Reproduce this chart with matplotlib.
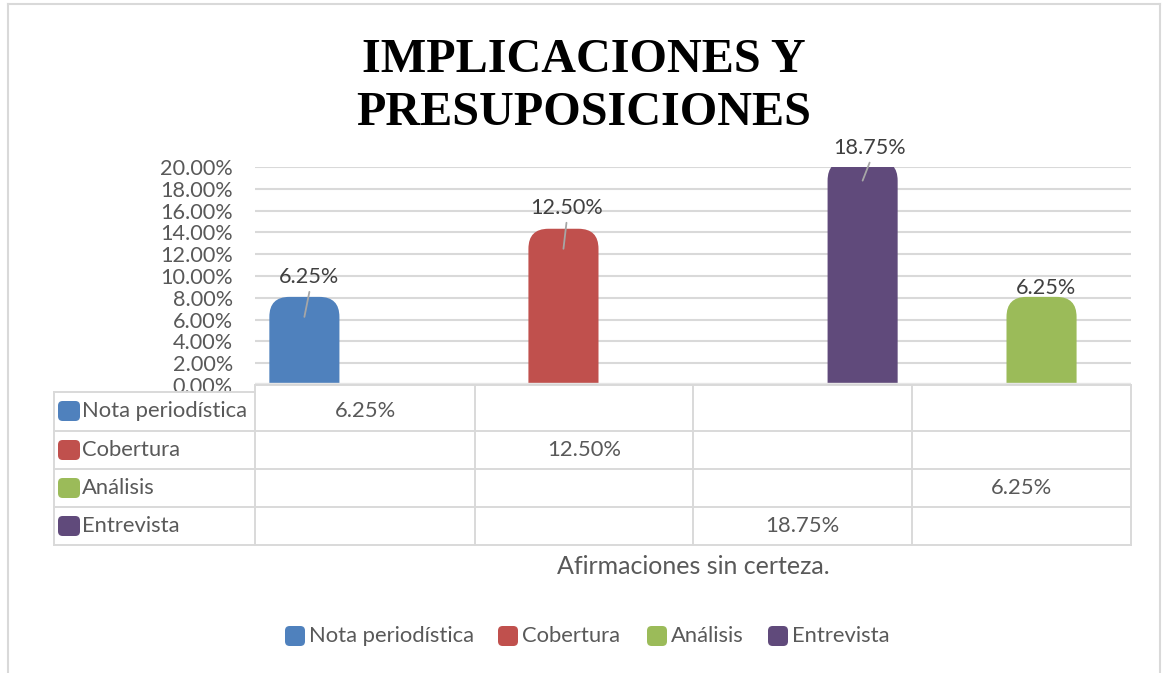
import matplotlib
matplotlib.use("Agg")
import matplotlib.pyplot as plt
from matplotlib.patches import FancyBboxPatch
from matplotlib.lines import Line2D
import numpy as np

# ---------------- data ----------------
title_lines = ["IMPLICACIONES Y", "PRESUPOSICIONES"]
axis_title = "Afirmaciones sin certeza."
series = ["Nota periodística", "Cobertura", "Análisis", "Entrevista"]
colors = ["#4f81bd", "#c0504d", "#9bbb59", "#604a7b"]
n_categories = 4
# value of each series in each category (None = empty)
nota = [0.0625, None, None, None]
cobertura = [None, 0.125, None, None]
analisis = [None, None, None, 0.0625]
entrevista = [None, None, 0.1875, None]
values = [nota, cobertura, analisis, entrevista]
yticks = np.arange(0, 0.2001, 0.02)

# ---------------- layout ----------------
W, H = 1164, 673
DPI = 100
fig = plt.figure(figsize=(W / DPI, H / DPI), dpi=DPI)
fig.patch.set_facecolor("white")

def fx(px):
    return px / W

def fy(py):
    return 1 - py / H

FONT = "Lato"
TXT = "#595959"
FS = 15.6
FS_T = 15.8

ax_l, ax_r, ax_t, ax_b = 255, 1131, 167, 385
ax = fig.add_axes([fx(ax_l), fy(ax_b), (ax_r - ax_l) / W, (ax_b - ax_t) / H])
ax.set_xlim(-0.5, n_categories - 0.5)
ax.set_ylim(0, 0.20)
for s in ax.spines.values():
    s.set_visible(False)
ax.set_xticks([])
ax.set_yticks(yticks)
ax.set_yticklabels([f"{v*100:.2f}%" for v in yticks], fontsize=FS,
                   color=TXT, family=FONT)
ax.tick_params(axis="y", length=0, pad=16)
ax.yaxis.grid(True, color="#d9d9d9", lw=1.5)
ax.set_axisbelow(True)

# bars (clustered, overlapping)
spacing = 0.183
bar_w = 0.32
offsets = [-1.5 * spacing, -0.5 * spacing, 0.5 * spacing, 1.5 * spacing]
px_x = n_categories / (ax_r - ax_l)
px_y = 0.20 / (ax_b - ax_t)
aspect = px_y / px_x
r_px = 20
cap = r_px * px_y

label_offsets = {  # (dx, dy) pixels from bar value, draw leader?
    0: (5, 40, True),
    1: (3, 41, True),
    2: (4, 29, False),
    3: (7, 33, True),
}

for si, (vals, col) in enumerate(zip(values, colors)):
    for ci, v in enumerate(vals):
        if v is None:
            continue
        xc = ci + offsets[si]
        ax.bar(xc, v, width=bar_w, color=col, alpha=0)
        p = FancyBboxPatch((xc - bar_w / 2, -0.02), bar_w, v + cap + 0.02,
                           boxstyle=f"round,pad=0,rounding_size={r_px*px_x}",
                           mutation_aspect=aspect, facecolor=col,
                           edgecolor="none", zorder=2, clip_on=True)
        ax.add_patch(p)
        dx, dy, leader = label_offsets[si]
        ax.annotate(f"{v*100:.2f}%", xy=(xc, v), xytext=(dx, dy),
                    textcoords="offset pixels", ha="center", va="center",
                    fontsize=FS, color="#404040", family=FONT,
                    annotation_clip=False, zorder=4)
        if leader:
            ax.annotate("", xy=(xc, v), xytext=(dx, dy - 15),
                        textcoords="offset pixels",
                        arrowprops=dict(arrowstyle="-", color="#a6a6a6", lw=1.3,
                                        shrinkA=0, shrinkB=0),
                        annotation_clip=False, zorder=4)

ax.axhline(0.0015, color="#e6e6e6", lw=1.0, zorder=3)

# ---------------- data table ----------------
gc = "#d9d9d9"
glw = 1.4
col_edges = [ax_l, 475, 693, 912, ax_r]
row_edges = [385, 431, 469, 507, 545]
lab_l = 54
lab_top = 392

def hline(y, x0, x1):
    fig.add_artist(Line2D([fx(x0), fx(x1)], [fy(y), fy(y)], color=gc, lw=glw))

def vline(x, y0, y1):
    fig.add_artist(Line2D([fx(x), fx(x)], [fy(y0), fy(y1)], color=gc, lw=glw))

hline(385, ax_l, ax_r)
hline(lab_top, lab_l, ax_l)
for y in row_edges[1:]:
    hline(y, lab_l, ax_r)
vline(lab_l, lab_top, 545)
for x in col_edges:
    vline(x, 385, 545)

row_y = [(row_edges[i] + row_edges[i + 1]) / 2 + (3 if i == 0 else 0) for i in range(4)]
for ri, si in enumerate([0, 1, 2, 3]):
    yc = row_y[ri]
    sq = FancyBboxPatch((fx(58), fy(yc + 10)), fx(22), fy(0) - fy(20),
                        boxstyle="round,pad=0,rounding_size=0.004",
                        transform=fig.transFigure, facecolor=colors[si],
                        edgecolor="none", mutation_aspect=W / H)
    fig.add_artist(sq)
    fig.text(fx(82), fy(yc), series[si], ha="left", va="center",
             fontsize=FS_T, color=TXT, family=FONT)
    for ci, v in enumerate(values[si]):
        if v is None:
            continue
        xc = (col_edges[ci] + col_edges[ci + 1]) / 2
        fig.text(fx(xc), fy(yc), f"{v*100:.2f}%", ha="center", va="center",
                 fontsize=FS_T, color=TXT, family=FONT)

fig.text(fx((ax_l + ax_r) / 2), fy(567), axis_title, ha="center", va="center",
         fontsize=18, color=TXT, family=FONT)

# ---------------- legend ----------------
leg_x = [285, 498, 647, 768]
leg_y = 636
for si, x in enumerate(leg_x):
    sq = FancyBboxPatch((fx(x), fy(leg_y + 10)), fx(20), fy(0) - fy(20),
                        boxstyle="round,pad=0,rounding_size=0.004",
                        transform=fig.transFigure, facecolor=colors[si],
                        edgecolor="none", mutation_aspect=W / H)
    fig.add_artist(sq)
    fig.text(fx(x + 24), fy(leg_y), series[si], ha="left", va="center",
             fontsize=FS_T, color=TXT, family=FONT)

# ---------------- title ----------------
for line, base in zip(title_lines, [72, 125]):
    fig.text(fx(584), fy(base), line, ha="center", va="baseline", fontsize=34.7,
             fontweight="bold", family="Liberation Serif", color="black")

# chart border
bc = "#d9d9d9"
fig.add_artist(Line2D([fx(8), fx(8)], [fy(4), fy(680)], color=bc, lw=1.5))
fig.add_artist(Line2D([fx(1160), fx(1160)], [fy(4), fy(680)], color=bc, lw=1.5))
fig.add_artist(Line2D([fx(8), fx(1160)], [fy(4), fy(4)], color=bc, lw=1.5))

fig.savefig("out.png", dpi=DPI, facecolor="white")
